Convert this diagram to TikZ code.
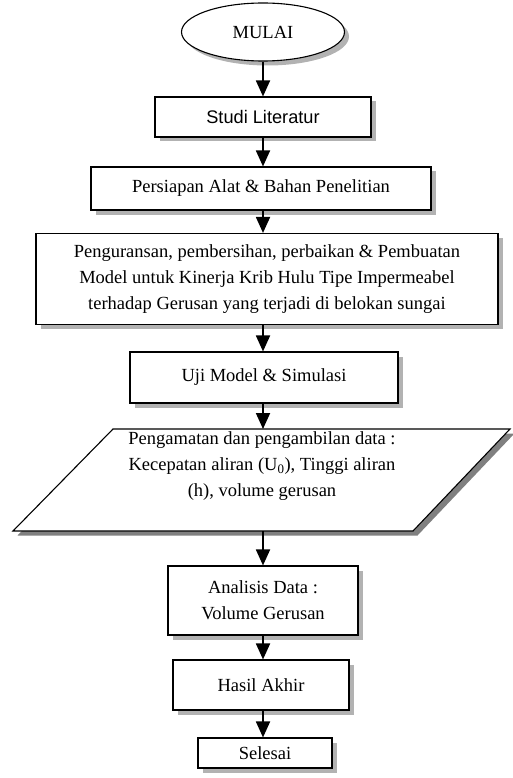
\documentclass[tikz,border=0pt]{standalone}
\usepackage{fontspec}
\setmainfont{Liberation Serif}
\newfontfamily\arialfont{Liberation Sans}
\usetikzlibrary{arrows.meta,shadows,shapes.geometric}
\begin{document}
\begin{tikzpicture}[x=1pt,y=-1pt,
  font=\fontsize{18.5}{25.6}\selectfont,
  shade1/.style={drop shadow={shadow xshift=4.5pt, shadow yshift=-4.5pt, fill=black!30, opacity=1}},
  shade2/.style={drop shadow={shadow xshift=4.5pt, shadow yshift=-4.5pt, fill=black!50, opacity=1}},
  box/.style={draw, line width=1.1pt, fill=white, inner sep=0pt, align=center, shade1},
  flow/.style={line width=1.8pt, -{Triangle[length=16pt,width=14pt]}}]
\useasboundingbox (0,0) rectangle (512,778);

\node[ellipse, draw, line width=1.1pt, fill=white, inner sep=0pt, minimum width=163pt, minimum height=58pt, shade1] (start) at (263,32) {MULAI};
\node[box, minimum width=216pt, minimum height=40pt, font=\arialfont\fontsize{18.2}{22}\selectfont] (studi) at (263,117) {Studi Literatur};
\node[box, minimum width=340pt, minimum height=43pt] (persiapan) at (261,188.5) {Persiapan Alat \& Bahan Penelitian};
\node[box, minimum width=462pt, minimum height=91pt] (model) at (267,279) {Penguransan, pembersihan, perbaikan \& Pembuatan\\Model untuk Kinerja Krib Hulu Tipe Impermeabel\\terhadap Gerusan yang terjadi di belokan sungai};
\node[box, minimum width=268pt, minimum height=51pt] (uji) at (264,377.5) {Uji Model \& Simulasi};

\path[draw, line width=1.1pt, fill=white, shade2] (113,429) -- (510,429) -- (413,531) -- (13,531) -- cycle;
\node[align=center, inner sep=0pt] (data) at (262,466) {Pengamatan dan pengambilan data :\\Kecepatan aliran (U\textsubscript{0}), Tinggi aliran\\(h), volume gerusan};
\coordinate (datatop) at (263,429);
\coordinate (databot) at (263,531);

\node[box, minimum width=190pt, minimum height=69pt] (analisis) at (263,600.5) {Analisis Data :\\Volume Gerusan};
\node[box, minimum width=176pt, minimum height=50pt] (hasil) at (261,685) {Hasil Akhir};
\node[box, minimum width=134pt, minimum height=30pt] (selesai) at (265,753) {Selesai};

\draw[flow] (start.south -| start) -- (studi.north -| start);
\draw[flow] (studi.south -| start) -- (persiapan.north -| start);
\draw[flow] (persiapan.south -| start) -- (model.north -| start);
\draw[flow] (model.south -| start) -- (uji.north -| start);
\draw[flow] (uji.south -| start) -- (datatop);
\draw[flow] (databot) -- (analisis.north -| start);
\draw[flow] (analisis.south -| start) -- (hasil.north -| start);
\draw[flow] (hasil.south -| start) -- (selesai.north -| start);
\end{tikzpicture}
\end{document}
